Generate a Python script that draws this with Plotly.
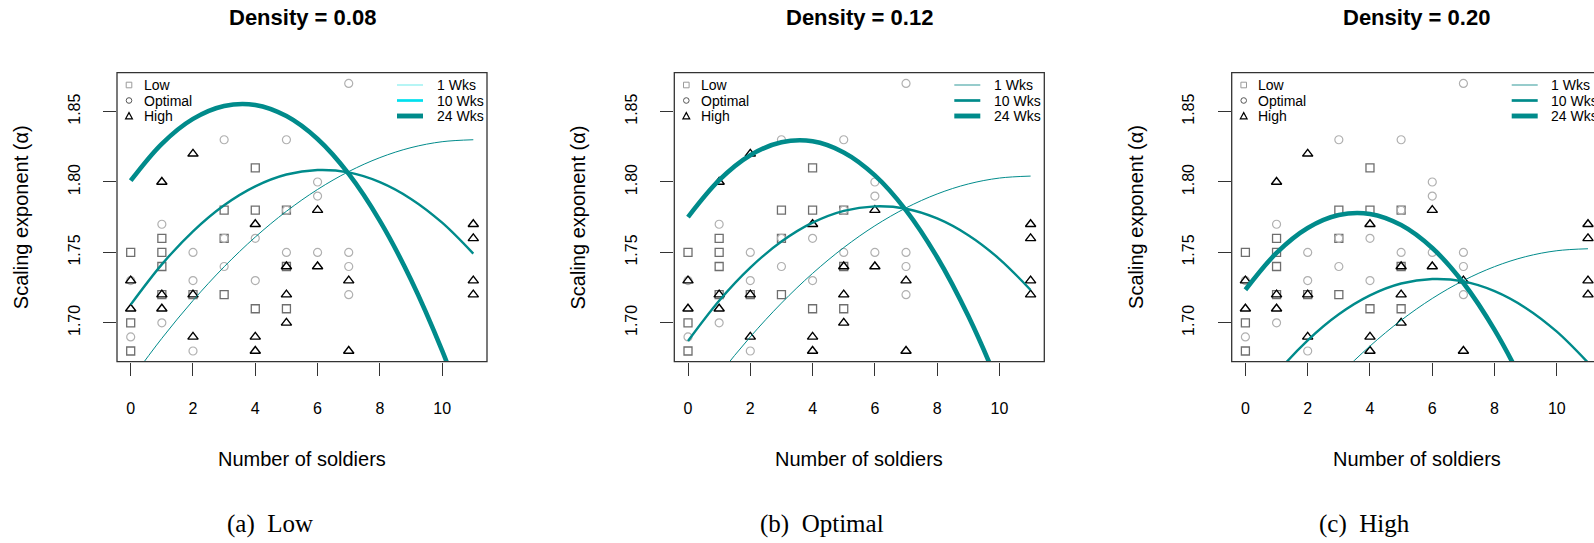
import plotly.graph_objects as go

W, H = 1594, 543

# Observed scaling exponents (same colonies drawn in every panel)
low_soldiers = [0, 0, 0, 1, 1, 1, 1, 2, 3, 3, 3, 4, 4, 4, 5, 5, 5]
low_alpha = [1.75, 1.70, 1.68, 1.76, 1.75, 1.74, 1.72, 1.72, 1.78, 1.76, 1.72,
             1.81, 1.78, 1.71, 1.78, 1.74, 1.71]
opt_soldiers = [0, 0, 1, 1, 2, 2, 2, 3, 3, 3, 4, 4, 5, 5, 5, 6, 6, 6, 7, 7, 7, 7]
opt_alpha = [1.73, 1.69, 1.77, 1.70, 1.75, 1.73, 1.68, 1.83, 1.76, 1.74, 1.76,
             1.73, 1.83, 1.78, 1.75, 1.80, 1.79, 1.75, 1.87, 1.75, 1.74, 1.72]
high_soldiers = [0, 0, 1, 1, 1, 2, 2, 2, 4, 4, 4, 5, 5, 5, 6, 6, 7, 7, 11, 11, 11, 11]
high_alpha = [1.73, 1.71, 1.80, 1.72, 1.71, 1.82, 1.72, 1.69, 1.77, 1.69, 1.68,
              1.74, 1.72, 1.70, 1.78, 1.74, 1.73, 1.68, 1.77, 1.76, 1.73, 1.72]

# Fitted curves, sampled at each soldier count
fit_soldiers = [0, 1, 2, 3, 4, 5, 6, 7, 8, 9, 10, 11]

fit_d008_wk1 = [1.6594, 1.6890, 1.7158, 1.7398, 1.7609, 1.7792, 1.7947, 1.8074, 1.8173, 1.8244, 1.8286, 1.8300]
fit_d008_wk10 = [1.7129, 1.7415, 1.7650, 1.7835, 1.7969, 1.8053, 1.8085, 1.8068, 1.7999, 1.7880, 1.7711, 1.7491]
fit_d008_wk24 = [1.8009, 1.8271, 1.8448, 1.8540, 1.8547, 1.8468, 1.8305, 1.8057, 1.7724, 1.7306, 1.6802, 1.6214]

fit_d012_wk1 = [1.6336, 1.6632, 1.6900, 1.7140, 1.7351, 1.7534, 1.7689, 1.7816, 1.7915, 1.7986, 1.8028, 1.8042]
fit_d012_wk10 = [1.6871, 1.7157, 1.7392, 1.7577, 1.7711, 1.7795, 1.7827, 1.7810, 1.7741, 1.7622, 1.7453, 1.7233]
fit_d012_wk24 = [1.7751, 1.8013, 1.8190, 1.8282, 1.8289, 1.8210, 1.8047, 1.7799, 1.7466, 1.7048, 1.6544, 1.5956]

fit_d020_wk1 = [1.5820, 1.6116, 1.6384, 1.6624, 1.6835, 1.7018, 1.7173, 1.7300, 1.7399, 1.7470, 1.7512, 1.7526]
fit_d020_wk10 = [1.6355, 1.6641, 1.6876, 1.7061, 1.7195, 1.7279, 1.7311, 1.7294, 1.7225, 1.7106, 1.6937, 1.6717]
fit_d020_wk24 = [1.7235, 1.7497, 1.7674, 1.7766, 1.7773, 1.7694, 1.7531, 1.7283, 1.6950, 1.6532, 1.6028, 1.5440]

x_ticks = [0, 2, 4, 6, 8, 10]
y_ticks = [1.70, 1.75, 1.80, 1.85]
y_tick_text = ["1.70", "1.75", "1.80", "1.85"]

panel_titles = ["Density = 0.08", "Density = 0.12", "Density = 0.20"]
captions = ["(a)\u00a0\u00a0Low", "(b)\u00a0\u00a0Optimal", "(c)\u00a0\u00a0High"]
caption_centers = [270.0, 822.0, 1364.0]
week_labels = ["1 Wks", "10 Wks", "24 Wks"]
group_labels = ["Low", "Optimal", "High"]
fits = [
    [fit_d008_wk1, fit_d008_wk10, fit_d008_wk24],
    [fit_d012_wk1, fit_d012_wk10, fit_d012_wk24],
    [fit_d020_wk1, fit_d020_wk10, fit_d020_wk24],
]

TEAL = "#008b8b"
SANS = "Liberation Sans"
SERIF = "Liberation Serif"
week_widths = [1.0, 2.4, 4.6]
legend_week_colors = [
    ["#8ff0f0", "#00e0ee", TEAL],
    ["#5fb0b0", TEAL, TEAL],
    ["#5fb0b0", TEAL, TEAL],
]

# layout geometry in pixels
box_lefts = [117.0, 674.3, 1231.7]
box_w = 370.0
box_top, box_bot = 72.7, 361.7
x_lo, x_hi = -0.44, 11.44
y_lo, y_hi = 1.6724, 1.8776
px_per_x = box_w / (x_hi - x_lo)


def px(x):
    return x / W


def py(y):
    return 1 - y / H


fig = go.Figure()
shapes = []
annotations = []

for i in range(3):
    sfx = "" if i == 0 else str(i + 1)
    L = box_lefts[i]
    R = L + box_w
    right_edge = min(R, W)
    x_max = x_lo + (right_edge - L) / px_per_x
    xa, ya = "x" + sfx, "y" + sfx

    fig.add_trace(go.Scatter(
        x=low_soldiers, y=low_alpha, mode="markers", xaxis=xa, yaxis=ya,
        marker=dict(symbol="square-open", size=8, color="#6e6e6e", line=dict(width=1.3)),
        showlegend=False, hoverinfo="skip"))
    fig.add_trace(go.Scatter(
        x=opt_soldiers, y=opt_alpha, mode="markers", xaxis=xa, yaxis=ya,
        marker=dict(symbol="circle-open", size=8, color="#b0b0b0", line=dict(width=1.2)),
        showlegend=False, hoverinfo="skip"))
    fig.add_trace(go.Scatter(
        x=high_soldiers, y=high_alpha, mode="markers", xaxis=xa, yaxis=ya,
        marker=dict(symbol="triangle-up-open", size=9, color="#000000", line=dict(width=1.4)),
        showlegend=False, hoverinfo="skip"))

    for k in range(3):
        fig.add_trace(go.Scatter(
            x=fit_soldiers, y=fits[i][k], mode="lines", xaxis=xa, yaxis=ya,
            line=dict(color=TEAL, width=week_widths[k], shape="spline"),
            showlegend=False, hoverinfo="skip"))

    fig.update_layout(**{
        "xaxis" + sfx: dict(
            domain=[px(L), px(right_edge)], range=[x_lo, x_max], anchor=ya,
            tickvals=x_ticks, ticks="outside", ticklen=13, tickwidth=1,
            tickcolor="#333333", showline=False, showgrid=False, zeroline=False,
            tickfont=dict(family=SANS, size=16, color="black"),
            ticklabelstandoff=19, automargin=False, fixedrange=True),
        "yaxis" + sfx: dict(
            domain=[py(box_bot), py(box_top)], range=[y_lo, y_hi], anchor=xa,
            tickvals=y_ticks, ticktext=y_tick_text, tickangle=-90,
            ticks="outside", ticklen=13, tickwidth=1, tickcolor="#333333",
            showline=False, showgrid=False, zeroline=False,
            tickfont=dict(family=SANS, size=16, color="black"),
            ticklabelstandoff=17, automargin=False, fixedrange=True),
    })

    # plot frame
    shapes.append(dict(type="rect", xref="paper", yref="paper",
                       x0=px(L), x1=px(R), y0=py(box_bot), y1=py(box_top),
                       line=dict(color="#333333", width=1.3), fillcolor="rgba(0,0,0,0)",
                       layer="above"))

    # titles and axis labels
    cx = (L + R) / 2
    annotations.append(dict(text="<b>" + panel_titles[i] + "</b>", x=px(cx), y=py(17),
                            xref="paper", yref="paper", showarrow=False,
                            xanchor="center", yanchor="middle",
                            font=dict(family=SANS, size=22, color="black")))
    annotations.append(dict(text="Number of soldiers", x=px(cx), y=py(459),
                            xref="paper", yref="paper", showarrow=False,
                            xanchor="center", yanchor="middle",
                            font=dict(family=SANS, size=20, color="black")))
    annotations.append(dict(text="Scaling exponent (\u03b1)", x=px(L - 96),
                            y=py((box_top + box_bot) / 2), textangle=-90,
                            xref="paper", yref="paper", showarrow=False,
                            xanchor="center", yanchor="middle",
                            font=dict(family=SANS, size=20, color="black")))
    annotations.append(dict(text=captions[i], x=px(caption_centers[i]), y=py(524),
                            xref="paper", yref="paper", showarrow=False,
                            xanchor="center", yanchor="middle",
                            font=dict(family=SERIF, size=25, color="black")))

    # group key (top-left)
    rows = [85.0, 100.5, 116.0]
    kx = L + 12
    s = 2.8
    shapes.append(dict(type="rect", xref="paper", yref="paper",
                       x0=px(kx - s), x1=px(kx + s), y0=py(rows[0] + s), y1=py(rows[0] - s),
                       line=dict(color="#9a9a9a", width=1)))
    shapes.append(dict(type="circle", xref="paper", yref="paper",
                       x0=px(kx - s), x1=px(kx + s), y0=py(rows[1] + s), y1=py(rows[1] - s),
                       line=dict(color="#555555", width=1)))
    tri = "M {:.5f} {:.5f} L {:.5f} {:.5f} L {:.5f} {:.5f} Z".format(
        px(kx - 3.4), py(rows[2] + 2.8), px(kx + 3.4), py(rows[2] + 2.8),
        px(kx), py(rows[2] - 3.4))
    shapes.append(dict(type="path", xref="paper", yref="paper", path=tri,
                       line=dict(color="#000000", width=1.2)))
    for r, lab in zip(rows, group_labels):
        annotations.append(dict(text=lab, x=px(L + 24.5), y=py(r), xref="paper", yref="paper",
                                showarrow=False, xanchor="left", yanchor="middle",
                                font=dict(family=SANS, size=14, color="black")))

    # week key (top-right)
    for k, (r, lab) in enumerate(zip(rows, week_labels)):
        shapes.append(dict(type="line", xref="paper", yref="paper",
                           x0=px(R - 90), x1=px(R - 64), y0=py(r), y1=py(r),
                           line=dict(color=legend_week_colors[i][k], width=week_widths[k] + 0.3)))
        annotations.append(dict(text=lab, x=px(R - 52.5), y=py(r), xref="paper", yref="paper",
                                showarrow=False, xanchor="left", yanchor="middle",
                                font=dict(family=SANS, size=14, color="black")))

fig.update_layout(
    template="none",
    width=W, height=H,
    margin=dict(l=0, r=0, t=0, b=0),
    paper_bgcolor="white", plot_bgcolor="rgba(0,0,0,0)",
    showlegend=False,
    shapes=shapes, annotations=annotations,
    font=dict(family=SANS, color="black"),
)

fig.write_html("out.html")
